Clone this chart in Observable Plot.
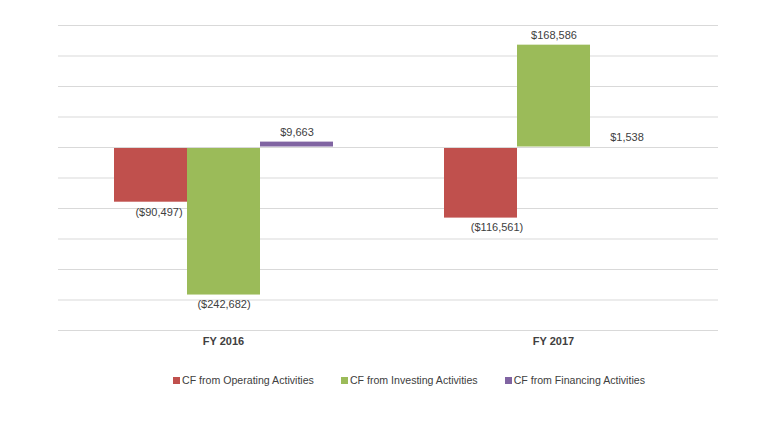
<!DOCTYPE html>
<html>
<head>
<meta charset="utf-8">
<script src="https://cdn.jsdelivr.net/npm/d3@7"></script>
<script src="https://cdn.jsdelivr.net/npm/@observablehq/plot@0.6"></script>
<style>
  body { margin: 0; background: #fff; font-family: "Liberation Sans", Arial, sans-serif; }
  #legend { display: flex; justify-content: center; gap: 27px; padding-left: 61px; margin-top: 8px; height: 14px; line-height: 14px; font-size: 10.6px; color: #404040; }
  #legend .item { display: flex; align-items: center; white-space: nowrap; }
  #legend .sw { width: 7px; height: 7px; margin-right: 2px; display: inline-block; }
</style>
</head>
<body>
<div id="chart"></div>
<div id="legend"></div>
<script>
const years = ["FY 2016", "FY 2017"];
const series = ["CF from Operating Activities", "CF from Investing Activities", "CF from Financing Activities"];
const fy2016 = [-90497, -242682, 9663];
const fy2017 = [-116561, 168586, 1538];
const colors = ["#C0504D", "#9BBB59", "#8064A2"];
const gridTicks = [-300000, -250000, -200000, -150000, -100000, -50000, 0, 50000, 100000, 150000, 200000];

const data = [];
series.forEach((s, i) => {
  data.push({year: years[0], series: s, value: fy2016[i]});
  data.push({year: years[1], series: s, value: fy2017[i]});
});
const fmt = d3.format(",");
const label = v => v < 0 ? "($" + fmt(-v) + ")" : "$" + fmt(v);
const labelOpts = {fx: "year", x: "series", y: "value", text: d => label(d.value), fill: "#404040", fontSize: 11};

const chart = Plot.plot({
  width: 757,
  height: 365,
  marginLeft: 58,
  marginRight: 39,
  marginTop: 25,
  marginBottom: 35,
  style: {fontFamily: "Liberation Sans, Arial, sans-serif", fontSize: "11px", background: "#fff"},
  fx: {domain: years, padding: 0, axis: null, label: null},
  x: {domain: series, axis: null, paddingInner: 0, paddingOuter: 0.76},
  y: {domain: [-300000, 200000], axis: null},
  color: {domain: series, range: colors},
  marks: [
    Plot.ruleY(gridTicks, {stroke: "#D9D9D9", strokeWidth: 1}),
    Plot.barY(data, {fx: "year", x: "series", y: "value", fill: "series", insetTop: 0.5, insetBottom: 0.5}),
    Plot.ruleY([0], {stroke: "#D9D9D9", strokeWidth: 1}),
    Plot.text(data.filter(d => d.value >= 0), {...labelOpts, lineAnchor: "bottom", dy: -6}),
    Plot.text(data.filter(d => d.value < 0 && d.series !== series[0]), {...labelOpts, lineAnchor: "top", dy: 5}),
    Plot.text(data.filter(d => d.value < 0 && d.series === series[0] && d.year === years[0]), {...labelOpts, lineAnchor: "top", dy: 5, dx: 8}),
    Plot.text(data.filter(d => d.value < 0 && d.series === series[0] && d.year === years[1]), {...labelOpts, lineAnchor: "top", dy: 5, dx: 16}),
    Plot.text(years, {fx: d => d, text: d => d, frameAnchor: "bottom", lineAnchor: "top", dy: 7, fontWeight: "bold", fill: "#404040", fontSize: 11})
  ]
});
document.getElementById("chart").appendChild(chart);

const legend = document.getElementById("legend");
series.forEach((s, i) => {
  const item = document.createElement("div");
  item.className = "item";
  const sw = document.createElement("span");
  sw.className = "sw";
  sw.style.background = colors[i];
  item.appendChild(sw);
  item.appendChild(document.createTextNode(s));
  legend.appendChild(item);
});
</script>
</body>
</html>
